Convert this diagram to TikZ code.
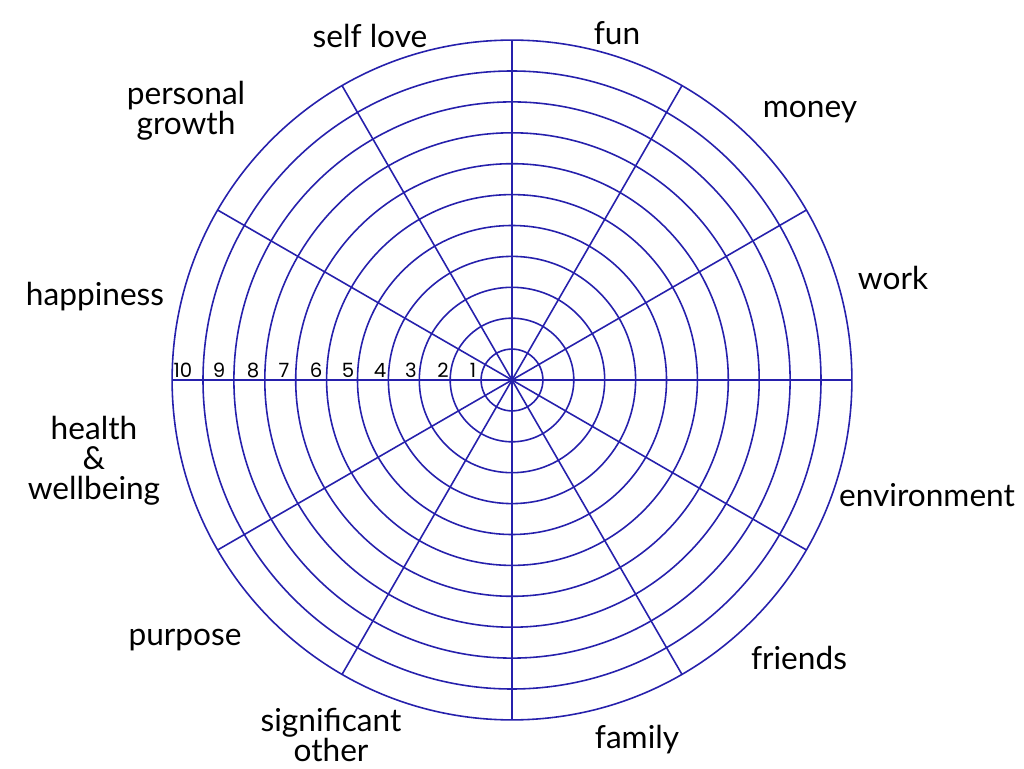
\documentclass[tikz,border=0pt]{standalone}
\usepackage{fontspec}
\usetikzlibrary{calc}
\setmainfont{Lato}
\newfontfamily\numfont{Poppins}
\definecolor{wheel}{RGB}{38,32,172}
\begin{document}
\begin{tikzpicture}[x=0.02cm,y=0.02cm,
  ring/.style={draw=wheel,line width=0.9pt},
  spoke/.style={draw=wheel,line width=0.9pt},
  lab/.style={font=\fontsize{18}{17}\selectfont,align=center,inner sep=0pt},
  num/.style={font=\numfont\fontsize{11.2}{12}\selectfont,inner sep=0pt,anchor=base}]
\useasboundingbox (0,0) rectangle (1024,768);
\fill[white] (0,0) rectangle (1024,768);
\coordinate (c) at (512,388);
\foreach \k in {1,...,11} {
  \draw[ring] (c) circle[radius={\k*30.9}];
}
\foreach \a in {0,30,...,330} {
  \coordinate (s\a) at ($(c)+(\a:339.9)$);
  \draw[spoke] (c) -- (s\a);
}
\foreach \k/\x in {1/473,2/443,3/411,4/380,5/348,6/316,7/284,8/253,9/219,10/183} {
  \node[num] (n\k) at (\x,390) {\k};
}
\node[lab] (selflove) at (370,732) {self love};
\node[lab] (fun) at (617,735) {fun};
\node[lab] (money) at (810,656) {money};
\node[lab] (work) at (893,490) {work};
\node[lab] (environment) at (927,273) {environment};
\node[lab] (friends) at (799,110) {friends};
\node[lab] (family) at (637,28) {family};
\node[lab] (significant) at (331,33) {significant\\other};
\node[lab] (purpose) at (185,128) {purpose};
\node[lab] (health) at (94,307) {health\\\&\\wellbeing};
\node[lab] (happiness) at (95,471) {happiness};
\node[lab] (personal) at (186,657) {personal\\growth};
\end{tikzpicture}
\end{document}
